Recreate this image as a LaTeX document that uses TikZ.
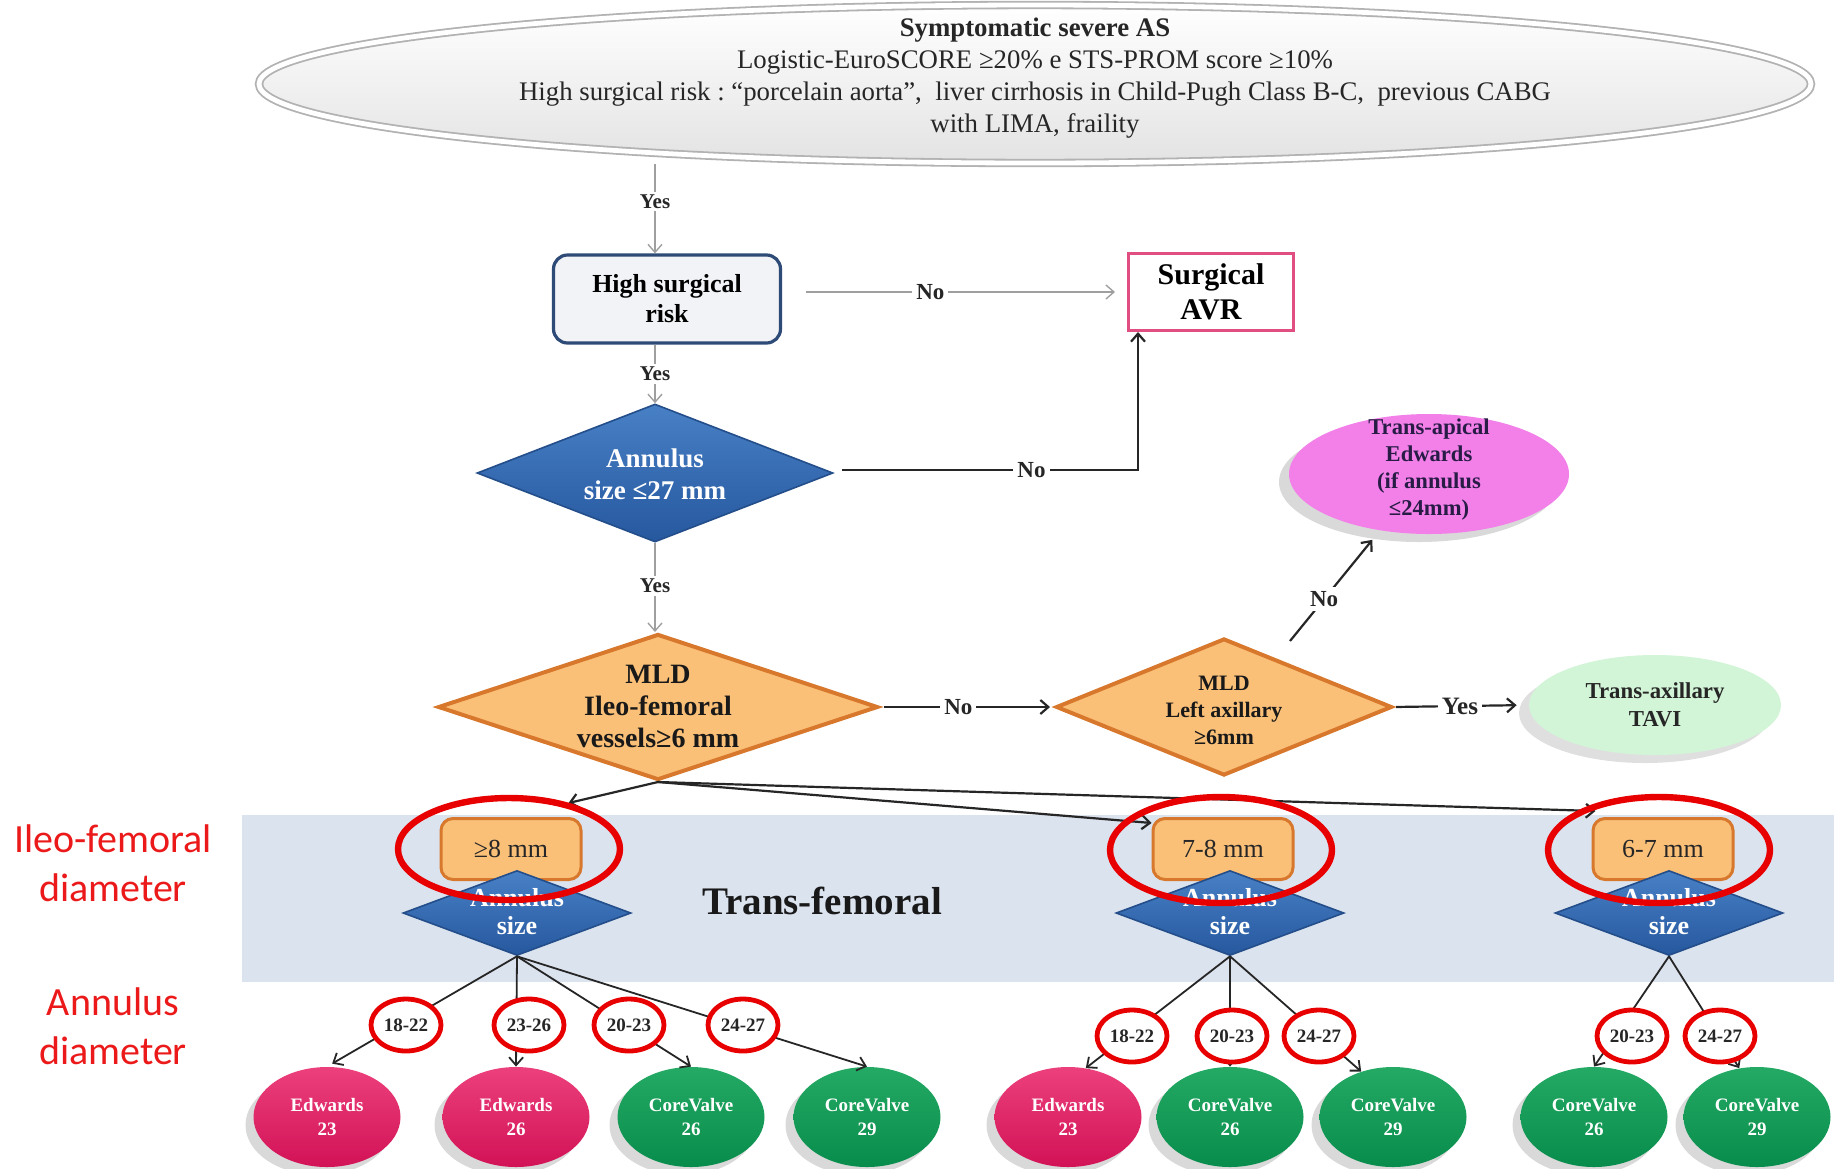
\documentclass[tikz,border=0pt]{standalone}
\usepackage{fontspec}
\setmainfont{Liberation Serif}
\newfontfamily\calibrifont{Carlito}
\usetikzlibrary{shapes.geometric,arrows.meta,shadows}
\newcommand\myfs[2]{\fontsize{#1}{#2}\selectfont}
\definecolor{hsrc}{RGB}{46,74,118}
\definecolor{hsrfill}{RGB}{241,243,246}
\definecolor{avrc}{RGB}{224,78,130}
\definecolor{blueA}{RGB}{72,128,198}
\definecolor{blueB}{RGB}{38,88,158}
\definecolor{blueD}{RGB}{35,78,138}
\definecolor{orf}{RGB}{250,192,120}
\definecolor{orb}{RGB}{215,120,45}
\definecolor{pinkc}{RGB}{242,128,232}
\definecolor{greenl}{RGB}{210,244,215}
\definecolor{edwc}{RGB}{210,18,86}
\definecolor{edwt}{RGB}{236,64,124}
\definecolor{cvc}{RGB}{8,140,76}
\definecolor{cvt}{RGB}{36,170,100}
\definecolor{ringc}{RGB}{232,0,0}
\definecolor{bandc}{RGB}{219,227,239}
\definecolor{redtxt}{RGB}{235,25,25}
\definecolor{purtxt}{RGB}{40,28,70}
\tikzset{
  tip/.style={-{Straight Barb[length=4pt,width=7pt]}},
  conn/.style={draw=black!85, line width=1.1pt, tip},
  gconn/.style={draw=gray!75, line width=0.7pt, tip},
  lbl/.style={fill=white, inner sep=2pt, text=black!85, font=\bfseries\myfs{11.5}{13}},
  ylbl/.style={fill=white, inner sep=1.5pt, text=black!85, font=\bfseries\myfs{10.5}{12}},
  topell/.style={ellipse, draw=gray!60, line width=0.9pt, double=white, double distance=2.4pt,
     top color=white, bottom color=gray!22, minimum width=776pt, minimum height=79pt, inner sep=0pt},
  hsrbox/.style={rectangle, rounded corners=7pt, draw=hsrc, line width=1.6pt, fill=hsrfill,
     minimum width=113.5pt, minimum height=44pt, align=center, font=\bfseries\myfs{13}{15}},
  avrbox/.style={rectangle, draw=avrc, line width=1.5pt, fill=white,
     minimum width=82.5pt, minimum height=38.5pt, align=center, font=\bfseries\myfs{15}{17.5}},
  bluedia/.style={diamond, inner sep=0pt, top color=blueA, bottom color=blueB, draw=blueD, line width=0.8pt},
  oradia/.style={diamond, inner sep=0pt, fill=orf, draw=orb, line width=2pt},
  wtext/.style={align=center, text=white, inner sep=0pt},
  btext/.style={align=center, text=black!90, inner sep=0pt},
  sizebox/.style={rectangle, rounded corners=6pt, fill=orf, draw=orb, line width=1.5pt,
     minimum width=70pt, minimum height=30.5pt, font=\myfs{13}{15}, text=black!85},
  bigring/.style={ellipse, draw=ringc, line width=3.2pt, minimum width=111pt, minimum height=51pt, inner sep=0pt},
  lring/.style={ellipse, draw=ringc, line width=2.4pt, fill=white, minimum width=35pt, minimum height=26pt,
     inner sep=0pt, font=\bfseries\myfs{9.5}{11}, text=black!85},
  valve/.style={ellipse, minimum width=73.5pt, minimum height=50pt, inner sep=0pt, align=center,
     text=white, font=\bfseries\myfs{9.5}{12},
     drop shadow={shadow xshift=-4pt, shadow yshift=-4pt, opacity=0.3, fill=gray}},
  edw/.style={valve, top color=edwt, bottom color=edwc},
  cv/.style={valve, top color=cvt, bottom color=cvc},
  sidelbl/.style={align=center, text=redtxt, font=\calibrifont\myfs{20}{24.5}}
}
\begin{document}
\begin{tikzpicture}[x=0.5pt,y=-0.5pt]
\useasboundingbox (0,0) rectangle (1834,1168);
% band
\fill[bandc] (242,815) rectangle (1834,982);
% top ellipse
\node[topell] (top) at (1035,84) {};
\node[align=center, inner sep=0pt, text=black!85, font=\myfs{13.4}{16}] (toptext) at (1035,78)
 {{\bfseries Symptomatic severe AS}\\
  Logistic-EuroSCORE ≥20\% e STS-PROM score ≥10\%\\
  High surgical risk :\ “porcelain aorta”,\ \ liver cirrhosis in Child-Pugh Class B-C,\ \ previous CABG\\
  with LIMA, fraility};
% main flow nodes
\node[hsrbox] (hsr) at (667,299) {High surgical\\risk};
\node[avrbox] (avr) at (1211,292) {Surgical\\AVR};
\node[bluedia, minimum width=178pt, minimum height=69pt] (ann) at (655,473) {};
\node[wtext, font=\bfseries\myfs{13.5}{16}] (annT) at (655,474) {Annulus\\size ≤27 mm};
\node[oradia, minimum width=220pt, minimum height=73pt] (mld) at (658,707) {};
\node[btext, font=\bfseries\myfs{14}{16}] (mldT) at (658,706) {MLD\\Ileo-femoral\\vessels≥6 mm};
\node[oradia, minimum width=168pt, minimum height=68.5pt] (ax) at (1224,707) {};
\node[btext, font=\bfseries\myfs{11}{13.5}] (axT) at (1224,710) {MLD\\Left axillary\\≥6mm};
\node[ellipse, minimum width=140pt, minimum height=60pt, inner sep=0pt, fill=pinkc,
      drop shadow={shadow xshift=-5pt, shadow yshift=-4pt, opacity=0.3, fill=gray}] (tap) at (1429,474) {};
\node[btext, text=purtxt, font=\bfseries\myfs{11.3}{13.5}] (tapT) at (1429,470) {Trans-apical\\Edwards\\(if annulus\\≤24mm)};
\node[ellipse, minimum width=126pt, minimum height=50pt, inner sep=0pt, fill=greenl, align=center,
      font=\bfseries\myfs{11.4}{14}, text=black!85,
      drop shadow={shadow xshift=-5pt, shadow yshift=-4pt, opacity=0.25, fill=gray}] (tax) at (1655,705) {Trans-axillary\\TAVI};
% connectors upper part
\draw[gconn] (top.south -| ann.north) -- node[ylbl, pos=0.42]{Yes} (hsr.north -| ann.north);
\draw[gconn, shorten <=12pt, shorten >=6pt] (hsr.east |- avr.west) -- node[lbl, pos=0.43]{No} (avr.west);
\draw[gconn] (hsr.south -| ann.north) -- node[ylbl]{Yes} (ann.north);
\coordinate (avrin) at ([xshift=5.5pt]avr.south west);
\draw[conn, shorten <=4pt] ([yshift=1.5pt]ann.east) -- node[lbl, pos=0.65]{No} ([yshift=1.5pt]ann.east -| avrin) -- (avrin);
\draw[gconn] (ann.south) -- node[ylbl, pos=0.48]{Yes} (ann.south |- mld.north);
\draw[conn, shorten <=2pt, shorten >=2pt] (mld.east) -- node[lbl, pos=0.45]{No} (ax.west);
\draw[conn, shorten <=1pt, shorten >=6pt] (ax.east) -- node[lbl, pos=0.49, font=\bfseries\myfs{12.5}{14}]{Yes} (tax.west);
\coordinate (axup) at ([shift={(66,-66)}]ax.center);
\draw[conn, shorten >=6pt] (axup) -- node[lbl, pos=0.38]{No} (tap.229);
% trans-femoral
\node[font=\bfseries\myfs{19.5}{22}, text=black!90] (tf) at (822,901) {Trans-femoral};
\node[sizebox] (b1) at (511,849) {≥8 mm};
\node[sizebox] (b2) at (1223,849) {7-8 mm};
\node[sizebox] (b3) at (1663,849) {6-7 mm};
\draw[conn] (mld.south) -- ([xshift=-7pt,yshift=7pt]b1.north east);
\draw[conn] (mld.south) -- ([yshift=-3pt]b2.north west);
\draw[conn] (mld.south) -- ([xshift=2pt,yshift=3pt]b3.north west);
\node[bluedia, minimum width=114pt, minimum height=42.5pt] (d1) at (517,913) {};
\node[bluedia, minimum width=114pt, minimum height=42.5pt] (d2) at (1230,913) {};
\node[bluedia, minimum width=114pt, minimum height=42.5pt] (d3) at (1669,913) {};
\node[wtext, font=\bfseries\myfs{13}{14}] (d1T) at (517,912) {Annulus\\size};
\node[wtext, font=\bfseries\myfs{13}{14}] (d2T) at (1230,912) {Annulus\\size};
\node[wtext, font=\bfseries\myfs{13}{14}] (d3T) at (1669,912) {Annulus\\size};
\node[bigring] (r1) at (509,849) {};
\node[bigring, minimum height=53pt] (r2) at (1221,850) {};
\node[bigring, minimum height=53pt] (r3) at (1659,850) {};
% valves
\node[edw] (c1) at (327,1117) {Edwards\\23};
\node[edw] (c2) at (516,1117) {Edwards\\26};
\node[cv] (c3) at (691,1117) {CoreValve\\26};
\node[cv] (c4) at (867,1117) {CoreValve\\29};
\node[edw] (c5) at (1068,1117) {Edwards\\23};
\node[cv] (c6) at (1230,1117) {CoreValve\\26};
\node[cv] (c7) at (1393,1117) {CoreValve\\29};
\node[cv] (c8) at (1594,1117) {CoreValve\\26};
\node[cv] (c9) at (1757,1117) {CoreValve\\29};
\draw[conn, line width=0.9pt, shorten >=3pt] (d1.south) -- (c1.north);
\draw[conn, line width=0.9pt] (d1.south) -- (c2.north);
\draw[conn, line width=0.9pt] (d1.south) -- (c3.north);
\draw[conn, line width=0.9pt] (d1.south) -- (c4.north);
\draw[conn, line width=0.9pt] (d2.south) -- (c5.70);
\draw[conn, line width=0.9pt] (d2.south) -- (c6.north);
\draw[conn, line width=0.9pt] (d2.south) -- (c7.125);
\draw[conn, line width=0.9pt] (d3.south) -- (c8.north);
\draw[conn, line width=0.9pt] (d3.south) -- (c9.110);
\node[lring] (l1) at (406,1025) {18-22};
\node[lring] (l2) at (529,1025) {23-26};
\node[lring] (l3) at (629,1025) {20-23};
\node[lring] (l4) at (743,1025) {24-27};
\node[lring] (l5) at (1132,1036) {18-22};
\node[lring] (l6) at (1232,1036) {20-23};
\node[lring] (l7) at (1319,1036) {24-27};
\node[lring] (l8) at (1632,1036) {20-23};
\node[lring] (l9) at (1720,1036) {24-27};
% side labels
\node[sidelbl] (s1) at (113,863) {Ileo-femoral\\diameter};
\node[sidelbl] (s2) at (113,1026) {Annulus\\diameter};
\end{tikzpicture}
\end{document}
